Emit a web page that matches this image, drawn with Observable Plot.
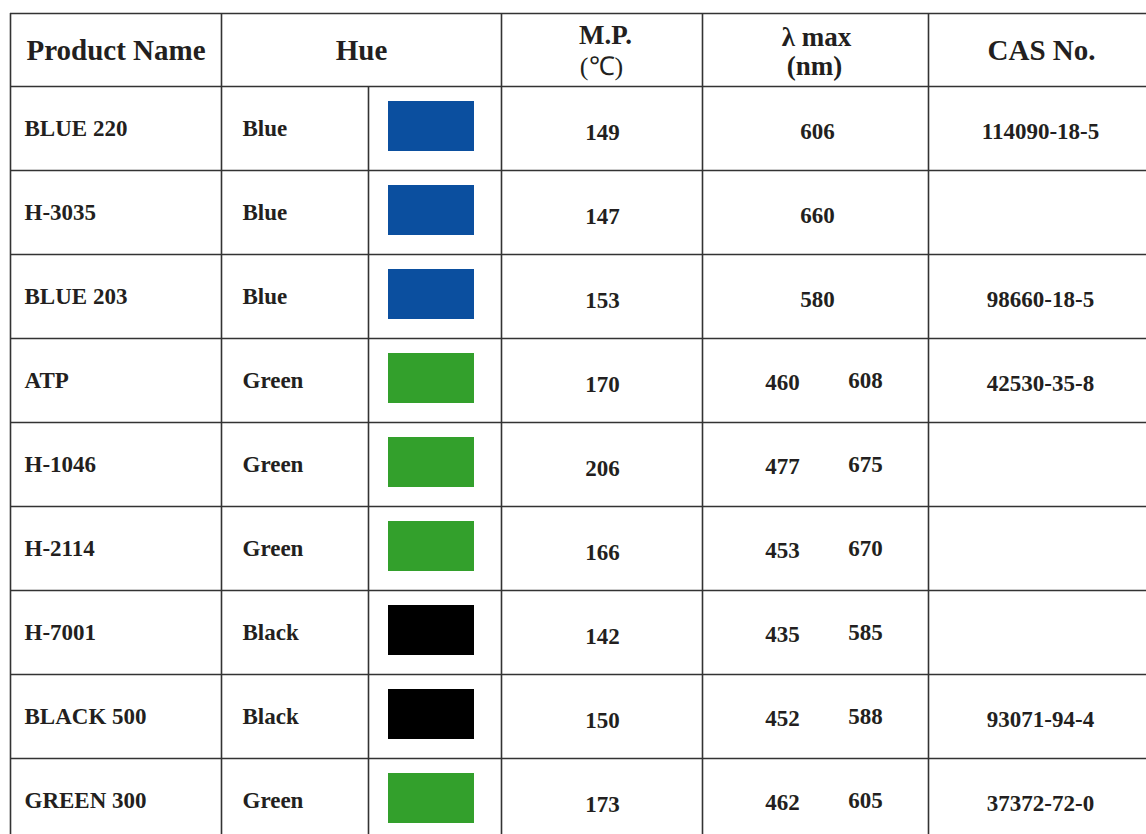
<!DOCTYPE html>
<html>
<head>
<meta charset="utf-8">
<script src="https://cdn.jsdelivr.net/npm/d3@7"></script>
<script src="https://cdn.jsdelivr.net/npm/@observablehq/plot@0.6"></script>
<style>
  html, body { margin: 0; padding: 0; background: #fff; }
  #chart svg { display: block; }
</style>
</head>
<body>
<div id="chart"></div>
<script>
// ---- data ----
const productNames = ["BLUE 220", "H-3035", "BLUE 203", "ATP", "H-1046", "H-2114", "H-7001", "BLACK 500", "GREEN 300"];
const hueNames = ["Blue", "Blue", "Blue", "Green", "Green", "Green", "Black", "Black", "Green"];
const meltingPoints = [149, 147, 153, 170, 206, 166, 142, 150, 173];
const lambdaMax1 = [606, 660, 580, 460, 477, 453, 435, 452, 462];
const lambdaMax2 = [null, null, null, 608, 675, 670, 585, 588, 605];
const casNumbers = ["114090-18-5", "", "98660-18-5", "42530-35-8", "", "", "", "93071-94-4", "37372-72-0"];
const hueDomain = ["Blue", "Green", "Black"];
const hueRange = ["#0b4f9f", "#33a02c", "#000000"];
const headers = ["Product Name", "Hue", "M.P.", "(℃)", "λ max", "(nm)", "CAS No."];

// ---- table layout ----
const W = 1146, H = 834;
const tableLeft = 10, tableTop = 13, headerBottom = 86, rowH = 84;
const colEdges = [10, 221, 368, 501, 702, 928];
const rowTop = i => headerBottom + i * rowH;
const rows = productNames.map((name, i) => ({
  name, hue: hueNames[i], mp: meltingPoints[i], l1: lambdaMax1[i], l2: lambdaMax2[i], cas: casNumbers[i], i
}));
const hLines = [tableTop, ...d3.range(rows.length + 1).map(rowTop)];
const vLines = colEdges.map(x => ({x, y1: x === 368 ? headerBottom : tableTop}));
const headerCells = [
  {t: headers[0], x: 115.5, y: 50, size: 29, w: "bold"},
  {t: headers[1], x: 361, y: 50, size: 29, w: "bold"},
  {t: headers[2], x: 605, y: 35, size: 27, w: "bold"},
  {t: headers[3], x: 601, y: 66, size: 26, w: "normal"},
  {t: headers[4], x: 816, y: 37, size: 27, w: "bold"},
  {t: headers[5], x: 814, y: 66, size: 27, w: "bold"},
  {t: headers[6], x: 1041, y: 50, size: 29, w: "bold"}
];

const font = "'Liberation Serif', 'Times New Roman', serif";
const ink = "#231f20";
const bodySize = 23;

const plot = Plot.plot({
  width: W,
  height: H,
  margin: 0,
  x: {domain: [0, W], range: [0, W], axis: null},
  y: {domain: [0, H], range: [0, H], axis: null},
  color: {type: "ordinal", domain: hueDomain, range: hueRange},
  style: {background: "#fff", fontFamily: font},
  marks: [
    // colour swatches
    Plot.rect(rows, {
      x1: 388, x2: 474,
      y1: d => rowTop(d.i) + 15, y2: d => rowTop(d.i) + 65,
      fill: {value: "hue", scale: "color"}
    }),
    // grid lines
    Plot.ruleY(hLines, {y: d => d, x1: tableLeft, x2: W, stroke: "#333", strokeWidth: 1.6}),
    Plot.ruleX(vLines, {x: "x", y1: "y1", y2: H, stroke: "#333", strokeWidth: 1.6}),
    // header
    ...headerCells.map(h => Plot.text([h], {
      x: "x", y: "y", text: "t", fontSize: h.size, fontWeight: h.w, fill: ink, fontFamily: font
    })),
    // body text
    Plot.text(rows, {x: 24, y: d => rowTop(d.i) + 42, text: "name", textAnchor: "start",
      fontSize: bodySize, fontWeight: "bold", fill: ink}),
    Plot.text(rows, {x: 242, y: d => rowTop(d.i) + 42, text: "hue", textAnchor: "start",
      fontSize: bodySize, fontWeight: "bold", fill: ink}),
    Plot.text(rows, {x: 602, y: d => rowTop(d.i) + 46, text: d => String(d.mp),
      fontSize: bodySize, fontWeight: "bold", fill: ink}),
    Plot.text(rows.filter(d => d.l2 == null), {x: 817, y: d => rowTop(d.i) + 45, text: d => String(d.l1),
      fontSize: bodySize, fontWeight: "bold", fill: ink}),
    Plot.text(rows.filter(d => d.l2 != null), {x: 782, y: d => rowTop(d.i) + 44, text: d => String(d.l1),
      fontSize: bodySize, fontWeight: "bold", fill: ink}),
    Plot.text(rows.filter(d => d.l2 != null), {x: 865, y: d => rowTop(d.i) + 42, text: d => String(d.l2),
      fontSize: bodySize, fontWeight: "bold", fill: ink}),
    Plot.text(rows.filter(d => d.cas), {x: 1040, y: d => rowTop(d.i) + 45, text: "cas",
      fontSize: bodySize, fontWeight: "bold", fill: ink})
  ]
});
document.getElementById("chart").appendChild(plot);
</script>
</body>
</html>
